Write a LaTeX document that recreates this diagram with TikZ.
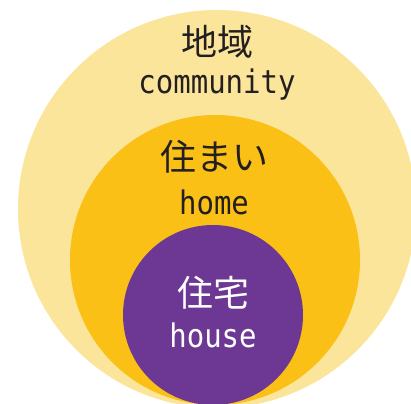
\documentclass[tikz,border=0pt]{standalone}
\usepackage{fontspec}
\usepackage{graphicx}
\newfontfamily\cjk{Noto Sans CJK JP}
\newfontfamily\lat{DejaVu Sans Mono}
\newcommand{\tallen}[1]{\scalebox{1}[1.12]{#1}}
\definecolor{outerc}{HTML}{FBE59A}
\definecolor{midc}{HTML}{FBC015}
\definecolor{innerc}{HTML}{6D3894}
\definecolor{ink}{HTML}{231F20}
\begin{document}
\begin{tikzpicture}[x=1pt,y=1pt,
  jp/.style={font=\cjk\fontsize{36}{36}\selectfont, inner sep=0pt, text=ink},
  en/.style={font=\lat\fontsize{29}{29}\selectfont, inner sep=0pt, text=ink}]
\useasboundingbox (0,0) rectangle (411,-403);
\begin{scope}
\clip (0,0) rectangle (411,-403);
\fill[outerc] (217,-209) circle (199);
\fill[midc] (215,-260) circle (145);
\fill[innerc] (213,-315) circle (90);
\end{scope}
\node[jp] (t1) at (217,-42) {地域};
\node[en] (e1) at (217,-85) {\tallen{community}};
\node[jp] (t2) at (214,-157) {住まい};
\node[en] (e2) at (214,-202) {\tallen{home}};
\node[jp, text=white] (t3) at (213,-293) {住宅};
\node[en, text=white] (e3) at (213,-335) {\tallen{house}};
\end{tikzpicture}
\end{document}
